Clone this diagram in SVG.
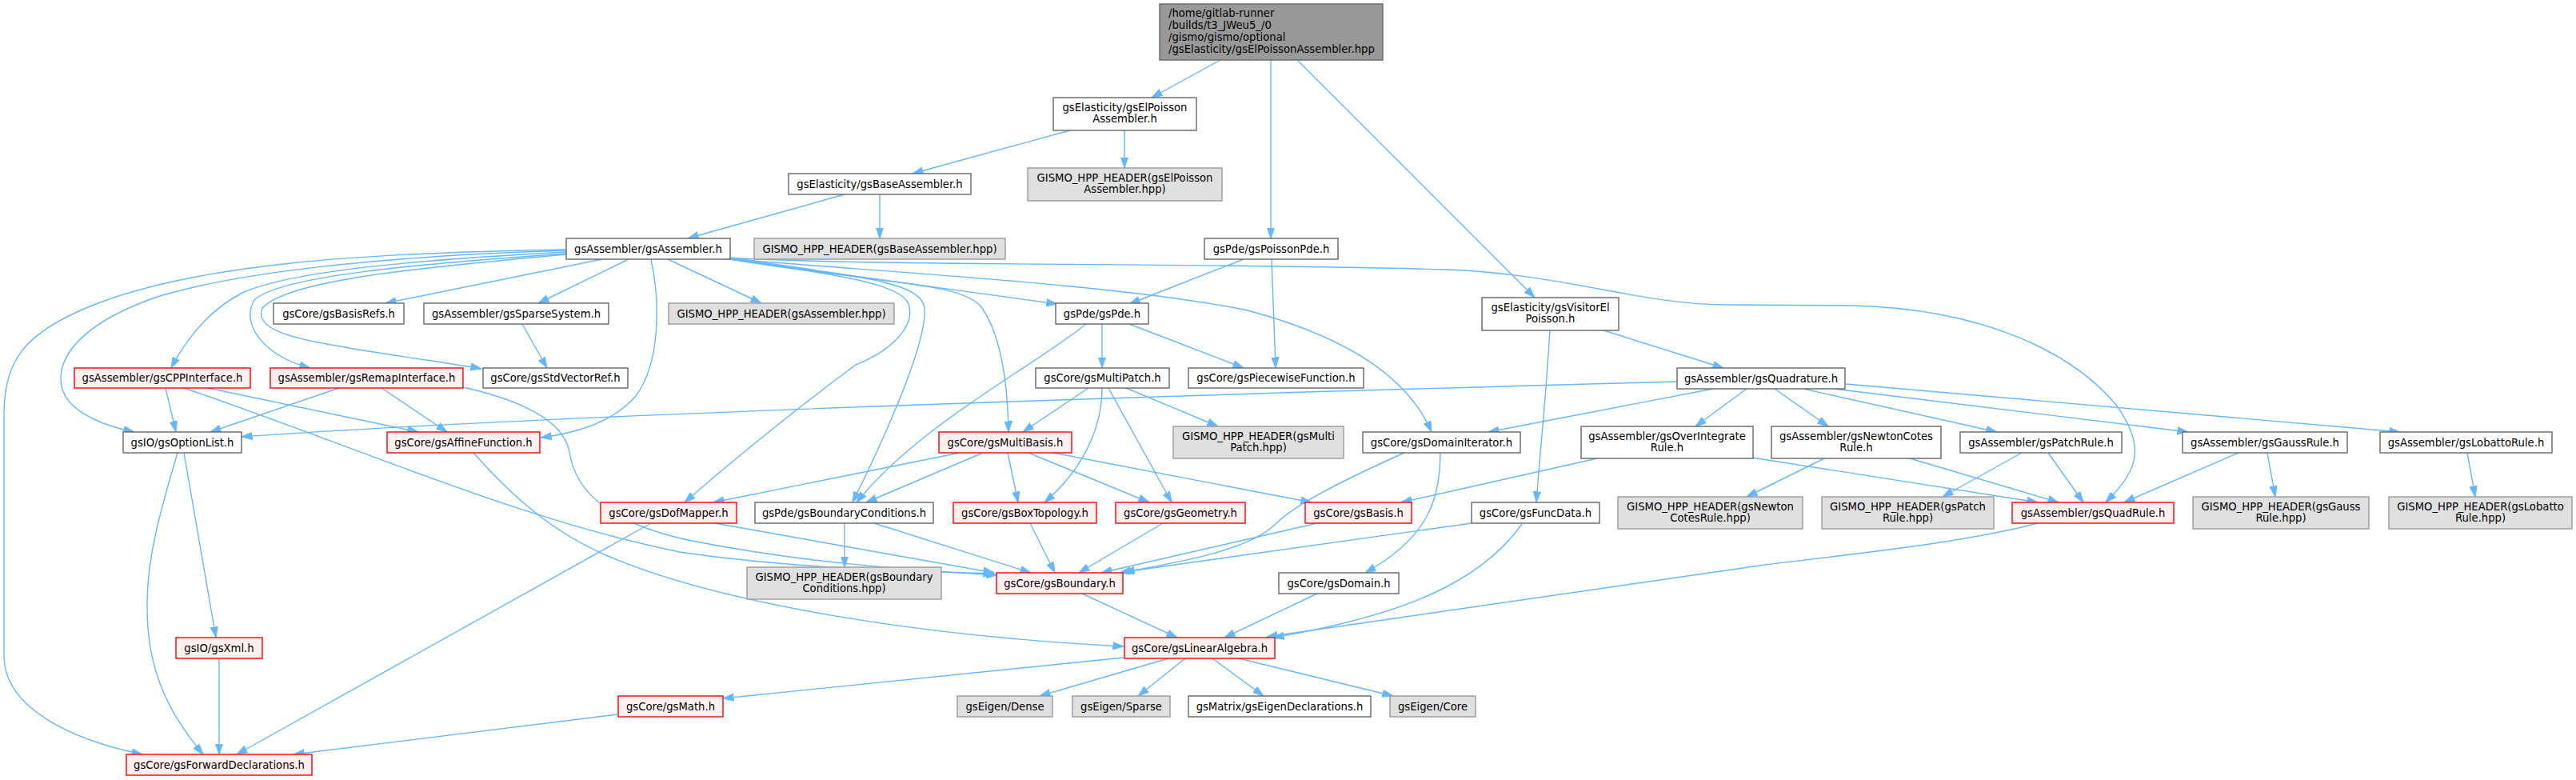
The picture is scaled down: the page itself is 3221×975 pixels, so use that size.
<svg xmlns="http://www.w3.org/2000/svg" width="3221" height="975" viewBox="0 0 3221 975">
<style>
text{font-family:"DejaVu Sans","Liberation Sans",sans-serif;font-size:13.2px;fill:#000;text-anchor:middle}
.n rect{fill:#fff;stroke:#666;stroke-width:1.4}
.r rect{fill:#fff0f0;stroke:#f00;stroke-width:1.4}
.g rect{fill:#e0e0e0;stroke:#999;stroke-width:1.4}
.root rect{fill:#999;stroke:#666;stroke-width:1.4}
.root text{text-anchor:start}
#edges path{fill:none;stroke:#63b8ff;stroke-width:1.4;marker-end:url(#ah)}
</style>
<defs>
<marker id="ah" markerUnits="userSpaceOnUse" markerWidth="15" markerHeight="11" refX="13.5" refY="5" orient="auto">
<path d="M0,0.4 L13.5,5 L0,9.6 z" fill="#63b8ff" stroke="#63b8ff" stroke-width="1"/>
</marker>
</defs>
<rect width="3221" height="975" fill="#fff"/>
<g id="edges">
<path d="M1526,75 L1440,122"/>
<path d="M1589,75 L1589,298"/>
<path d="M1622,75 L1919,372"/>
<path d="M1338,163 L1141,217"/>
<path d="M1406,163 L1406,210"/>
<path d="M1056,243 L860,298"/>
<path d="M1100,243 L1100,298"/>
<path d="M753,324 L482,379"/>
<path d="M786,324 L673,379"/>
<path d="M835,324 L952,379"/>
<path d="M906,323 L1322,380"/>
<path d="M708,312 C450,316 250,330 120,380 C30,415 5,450 5,520 L5,820 C5,885 90,925 178,943"/>
<path d="M708,313 C480,320 300,340 200,370 C110,400 75,440 76,475 C77,510 120,530 168,540"/>
<path d="M708,315 C520,325 370,338 305,365 C265,385 235,420 214,460"/>
<path d="M708,317 C520,330 350,345 318,375 C300,405 330,445 388,460"/>
<path d="M708,318 C520,335 360,350 328,385 C318,410 360,422 420,432 C490,445 560,453 602,461"/>
<path d="M814,324 C826,380 825,455 795,495 C765,530 715,542 676,547"/>
<path d="M906,323 C1100,355 1205,352 1228,385 C1252,420 1260,480 1261,540"/>
<path d="M906,322 C1010,340 1125,350 1136,380 C1146,410 1110,440 1070,456 C990,515 905,585 856,628"/>
<path d="M906,321 C1060,345 1152,350 1156,385 C1160,430 1100,560 1066,628"/>
<path d="M906,323 C1100,340 1400,355 1560,388 C1680,420 1760,470 1790,540"/>
<path d="M906,322 C1100,333 1500,328 1810,337 C1960,343 2050,381 2160,381 L2316,382 C2480,386 2590,440 2645,505 C2690,565 2665,595 2633,628"/>
<path d="M653,405 L684,460"/>
<path d="M1555,324 L1412,380"/>
<path d="M1590,324 L1595,460"/>
<path d="M1378,405 L1378,460"/>
<path d="M1412,405 L1555,460"/>
<path d="M1358,405 C1290,460 1150,530 1071,628"/>
<path d="M2002,412 L2155,460"/>
<path d="M1938,412 C1933,500 1925,570 1921,628"/>
<path d="M2097,477 C1500,493 700,518 302,546"/>
<path d="M2142,486 L1861,540"/>
<path d="M2184,486 L2120,533"/>
<path d="M2219,486 L2286,533"/>
<path d="M2255,486 L2497,540"/>
<path d="M2293,486 L2736,540"/>
<path d="M2308,480 L3001,540"/>
<path d="M1997,573 L1752,628"/>
<path d="M2191,572 L2548,628"/>
<path d="M2281,573 L2184,621"/>
<path d="M2388,573 L2574,628"/>
<path d="M2528,566 L2429,621"/>
<path d="M2561,566 L2605,628"/>
<path d="M2799,566 L2656,628"/>
<path d="M2835,566 L2845,621"/>
<path d="M3085,566 L3095,621"/>
<path d="M2548,654 C2450,680 2300,694 2200,707 L1584,796"/>
<path d="M207,485 L220,540"/>
<path d="M260,485 L523,540"/>
<path d="M230,485 C450,560 650,650 850,690 C1000,712 1150,714 1243,717"/>
<path d="M424,485 L263,540"/>
<path d="M477,485 L559,540"/>
<path d="M579,484 C650,500 705,525 712,565 C720,620 770,655 860,675 C1010,705 1150,713 1247,719"/>
<path d="M230,566 L270,797"/>
<path d="M222,566 C200,640 183,700 184,760 C184,830 205,885 254,943"/>
<path d="M592,566 C640,620 690,665 760,695 C900,755 1150,795 1405,808"/>
<path d="M274,823 L274,943"/>
<path d="M1361,485 L1279,540"/>
<path d="M1378,485 C1378,540 1350,590 1306,628"/>
<path d="M1386,485 L1465,628"/>
<path d="M1408,485 L1523,533"/>
<path d="M1200,566 L892,628"/>
<path d="M1229,566 L1083,628"/>
<path d="M1260,566 L1273,628"/>
<path d="M1286,566 L1437,628"/>
<path d="M1317,566 L1640,628"/>
<path d="M1756,566 C1680,600 1620,630 1595,655 C1560,690 1460,705 1400,716"/>
<path d="M1801,566 C1800,620 1790,670 1707,716"/>
<path d="M814,654 L296,943"/>
<path d="M894,654 L1243,716"/>
<path d="M1056,654 L1056,709"/>
<path d="M1093,654 L1289,716"/>
<path d="M1288,654 L1319,716"/>
<path d="M1454,654 L1349,716"/>
<path d="M1647,654 L1377,716"/>
<path d="M1840,654 L1405,715"/>
<path d="M1903,655 C1850,730 1750,770 1592,797"/>
<path d="M1353,742 L1472,797"/>
<path d="M1647,742 L1531,797"/>
<path d="M1405,822 L904,873"/>
<path d="M1461,823 L1300,870"/>
<path d="M1482,823 L1423,870"/>
<path d="M1516,823 L1580,870"/>
<path d="M1549,823 L1742,870"/>
<path d="M772,893 L367,943"/>
</g>
<g id="root" class="root"><rect x="1450" y="5" width="279" height="70"/><text x="1461" y="21">/home/gitlab-runner</text><text x="1461" y="36">/builds/t3_JWeu5_/0</text><text x="1461" y="51">/gismo/gismo/optional</text><text x="1461" y="66">/gsElasticity/gsElPoissonAssembler.hpp</text></g>
<g id="n1" class="n"><rect x="1317" y="122" width="179" height="41"/><text x="1406.5" y="138.5">gsElasticity/gsElPoisson</text><text x="1406.5" y="153">Assembler.h</text></g>
<g id="n2" class="g"><rect x="1285" y="210" width="243" height="41"/><text x="1406.5" y="226.5">GISMO_HPP_HEADER(gsElPoisson</text><text x="1406.5" y="241">Assembler.hpp)</text></g>
<g id="n3" class="n"><rect x="1506" y="298" width="167" height="26"/><text x="1589.5" y="315.5">gsPde/gsPoissonPde.h</text></g>
<g id="n4" class="n"><rect x="986" y="217" width="228" height="26"/><text x="1100" y="234.5">gsElasticity/gsBaseAssembler.h</text></g>
<g id="n5" class="g"><rect x="943" y="298" width="314" height="26"/><text x="1100" y="315.5">GISMO_HPP_HEADER(gsBaseAssembler.hpp)</text></g>
<g id="n6" class="n"><rect x="708" y="298" width="205" height="26"/><text x="810.5" y="315.5">gsAssembler/gsAssembler.h</text></g>
<g id="n7" class="n"><rect x="342" y="379" width="163" height="26"/><text x="423.5" y="396.5">gsCore/gsBasisRefs.h</text></g>
<g id="n8" class="n"><rect x="530" y="379" width="231" height="26"/><text x="645.5" y="396.5">gsAssembler/gsSparseSystem.h</text></g>
<g id="n9" class="g"><rect x="836" y="379" width="282" height="26"/><text x="977" y="396.5">GISMO_HPP_HEADER(gsAssembler.hpp)</text></g>
<g id="n10" class="n"><rect x="1320" y="379" width="116" height="26"/><text x="1378" y="396.5">gsPde/gsPde.h</text></g>
<g id="n11" class="n"><rect x="1853" y="372" width="171" height="41"/><text x="1938.5" y="388.5">gsElasticity/gsVisitorEl</text><text x="1938.5" y="403">Poisson.h</text></g>
<g id="n12" class="r"><rect x="93" y="460" width="220" height="25"/><text x="203" y="477">gsAssembler/gsCPPInterface.h</text></g>
<g id="n13" class="r"><rect x="338" y="460" width="241" height="25"/><text x="458.5" y="477">gsAssembler/gsRemapInterface.h</text></g>
<g id="n14" class="n"><rect x="604" y="460" width="181" height="25"/><text x="694.5" y="477">gsCore/gsStdVectorRef.h</text></g>
<g id="n15" class="n"><rect x="1295" y="460" width="167" height="25"/><text x="1378.5" y="477">gsCore/gsMultiPatch.h</text></g>
<g id="n16" class="n"><rect x="1486" y="460" width="219" height="25"/><text x="1595.5" y="477">gsCore/gsPiecewiseFunction.h</text></g>
<g id="n17" class="n"><rect x="2097" y="460" width="210" height="26"/><text x="2202" y="477.5">gsAssembler/gsQuadrature.h</text></g>
<g id="n18" class="n"><rect x="154" y="540" width="148" height="26"/><text x="228" y="557.5">gsIO/gsOptionList.h</text></g>
<g id="n19" class="r"><rect x="484" y="540" width="191" height="26"/><text x="579.5" y="557.5">gsCore/gsAffineFunction.h</text></g>
<g id="n20" class="r"><rect x="1174" y="540" width="166" height="26"/><text x="1257" y="557.5">gsCore/gsMultiBasis.h</text></g>
<g id="n21" class="g"><rect x="1467" y="533" width="213" height="40"/><text x="1573.5" y="549.5">GISMO_HPP_HEADER(gsMulti</text><text x="1573.5" y="564">Patch.hpp)</text></g>
<g id="n22" class="n"><rect x="1704" y="540" width="197" height="26"/><text x="1802.5" y="557.5">gsCore/gsDomainIterator.h</text></g>
<g id="n23" class="n"><rect x="1977" y="533" width="215" height="40"/><text x="2084.5" y="549.5">gsAssembler/gsOverIntegrate</text><text x="2084.5" y="564">Rule.h</text></g>
<g id="n24" class="n"><rect x="2215" y="533" width="212" height="40"/><text x="2321" y="549.5">gsAssembler/gsNewtonCotes</text><text x="2321" y="564">Rule.h</text></g>
<g id="n25" class="n"><rect x="2451" y="540" width="202" height="26"/><text x="2552" y="557.5">gsAssembler/gsPatchRule.h</text></g>
<g id="n26" class="n"><rect x="2729" y="540" width="206" height="26"/><text x="2832" y="557.5">gsAssembler/gsGaussRule.h</text></g>
<g id="n27" class="n"><rect x="2976" y="540" width="215" height="26"/><text x="3083.5" y="557.5">gsAssembler/gsLobattoRule.h</text></g>
<g id="n28" class="r"><rect x="751" y="628" width="170" height="26"/><text x="836" y="645.5">gsCore/gsDofMapper.h</text></g>
<g id="n29" class="n"><rect x="944" y="628" width="223" height="26"/><text x="1055.5" y="645.5">gsPde/gsBoundaryConditions.h</text></g>
<g id="n30" class="r"><rect x="1192" y="628" width="179" height="26"/><text x="1281.5" y="645.5">gsCore/gsBoxTopology.h</text></g>
<g id="n31" class="r"><rect x="1395" y="628" width="162" height="26"/><text x="1476" y="645.5">gsCore/gsGeometry.h</text></g>
<g id="n32" class="r"><rect x="1632" y="628" width="133" height="26"/><text x="1698.5" y="645.5">gsCore/gsBasis.h</text></g>
<g id="n33" class="n"><rect x="1840" y="628" width="160" height="26"/><text x="1920" y="645.5">gsCore/gsFuncData.h</text></g>
<g id="n34" class="g"><rect x="2023" y="621" width="231" height="40"/><text x="2138.5" y="637.5">GISMO_HPP_HEADER(gsNewton</text><text x="2138.5" y="652">CotesRule.hpp)</text></g>
<g id="n35" class="g"><rect x="2278" y="621" width="215" height="40"/><text x="2385.5" y="637.5">GISMO_HPP_HEADER(gsPatch</text><text x="2385.5" y="652">Rule.hpp)</text></g>
<g id="n36" class="r"><rect x="2516" y="628" width="202" height="26"/><text x="2617" y="645.5">gsAssembler/gsQuadRule.h</text></g>
<g id="n37" class="g"><rect x="2742" y="621" width="220" height="40"/><text x="2852" y="637.5">GISMO_HPP_HEADER(gsGauss</text><text x="2852" y="652">Rule.hpp)</text></g>
<g id="n38" class="g"><rect x="2987" y="621" width="229" height="40"/><text x="3101.5" y="637.5">GISMO_HPP_HEADER(gsLobatto</text><text x="3101.5" y="652">Rule.hpp)</text></g>
<g id="n39" class="g"><rect x="934" y="709" width="243" height="40"/><text x="1055.5" y="725.5">GISMO_HPP_HEADER(gsBoundary</text><text x="1055.5" y="740">Conditions.hpp)</text></g>
<g id="n40" class="r"><rect x="1246" y="716" width="158" height="26"/><text x="1325" y="733.5">gsCore/gsBoundary.h</text></g>
<g id="n41" class="n"><rect x="1599" y="716" width="150" height="26"/><text x="1674" y="733.5">gsCore/gsDomain.h</text></g>
<g id="n42" class="r"><rect x="220" y="797" width="108" height="26"/><text x="274" y="814.5">gsIO/gsXml.h</text></g>
<g id="n43" class="r"><rect x="1406" y="797" width="188" height="26"/><text x="1500" y="814.5">gsCore/gsLinearAlgebra.h</text></g>
<g id="n44" class="r"><rect x="773" y="870" width="131" height="26"/><text x="838.5" y="887.5">gsCore/gsMath.h</text></g>
<g id="n45" class="g"><rect x="1197" y="870" width="119" height="26"/><text x="1256.5" y="887.5">gsEigen/Dense</text></g>
<g id="n46" class="g"><rect x="1341" y="870" width="122" height="26"/><text x="1402" y="887.5">gsEigen/Sparse</text></g>
<g id="n47" class="n"><rect x="1486" y="870" width="228" height="26"/><text x="1600" y="887.5">gsMatrix/gsEigenDeclarations.h</text></g>
<g id="n48" class="g"><rect x="1738" y="870" width="107" height="26"/><text x="1791.5" y="887.5">gsEigen/Core</text></g>
<g id="n49" class="r"><rect x="158" y="943" width="232" height="26"/><text x="274" y="960.5">gsCore/gsForwardDeclarations.h</text></g>
</svg>
